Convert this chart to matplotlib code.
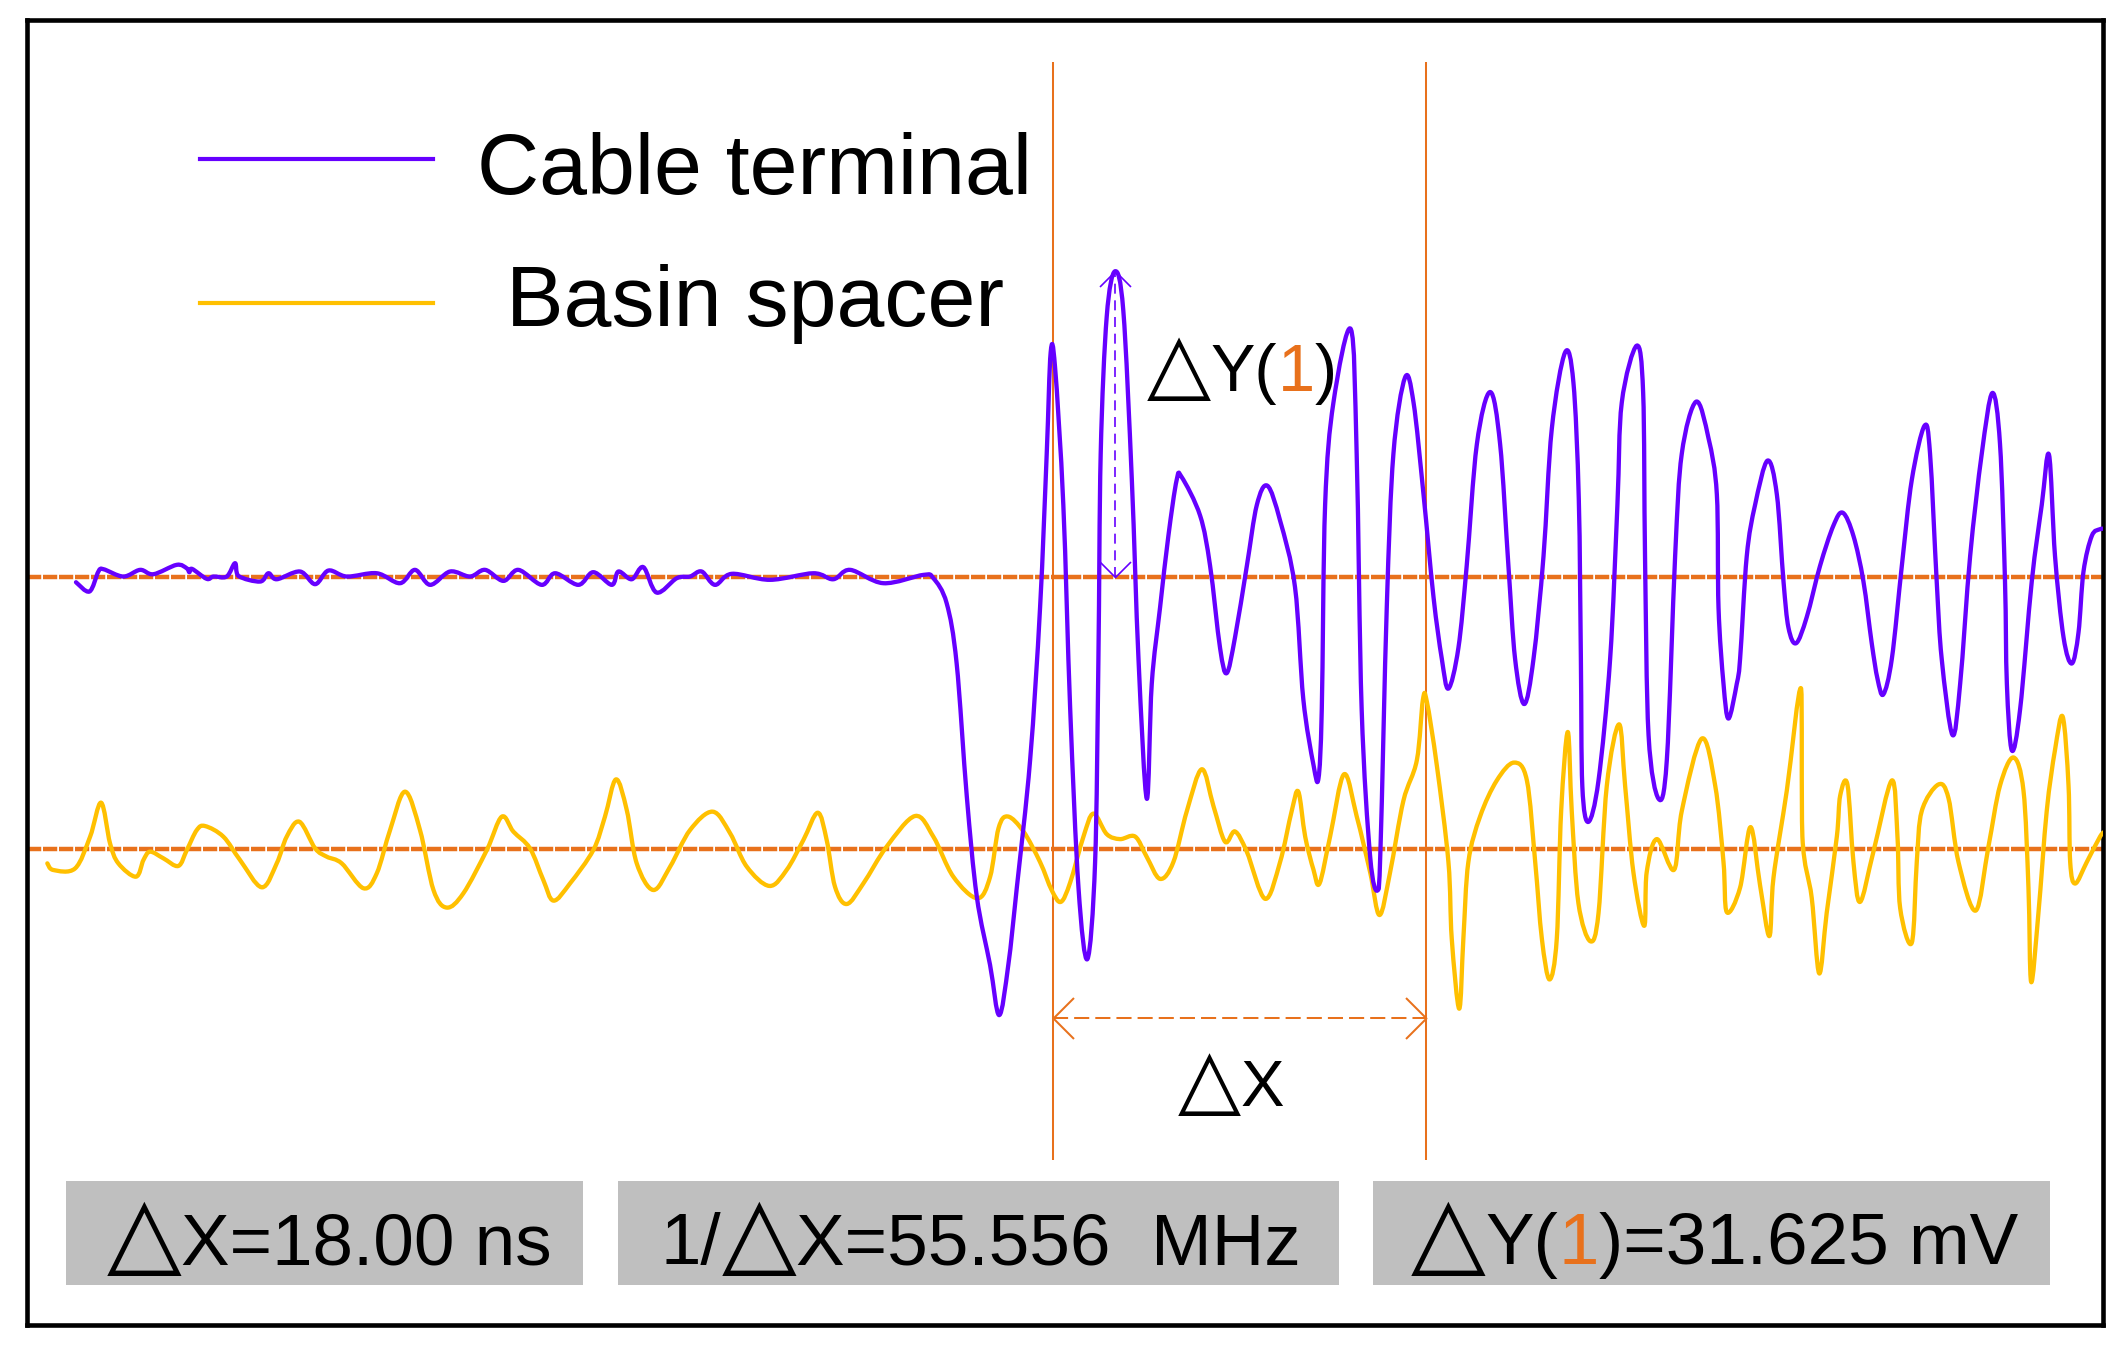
import numpy as np
import matplotlib
matplotlib.use('Agg')
import matplotlib.pyplot as plt
from matplotlib.patches import Rectangle, PathPatch
from matplotlib.path import Path
from matplotlib.transforms import offset_copy

# --- datos (t en ns, v en mV respecto a la linea base de cada canal) ---
t_cable = [-47.04, -46.39, -45.96, -45.72, -44.76, -43.95, -43.31, -42.19, -41.71, -41.58,
           -41.45, -40.74, -40.42, -39.78, -39.38, -39.22, -38.17, -37.77, -37.37, -36.25,
           -35.52, -34.88, -33.99, -32.55, -31.43, -30.71, -29.98, -29.02, -28.06, -27.33,
           -26.45, -25.73, -24.61, -23.96, -22.84, -22.12, -21.23, -20.91, -20.27, -19.71,
           -19.07, -18.10, -17.46, -16.90, -16.26, -15.45, -13.61, -11.52, -10.56, -9.75,
           -8.15, -6.22, -5.74, -5.10, -4.62, -4.13, -3.65, -3.01, -2.57, -2.13,
           -1.72, -1.08, -0.60, -0.28, -0.09, 0.12, 0.52, 0.85, 1.25, 1.68,
           2.05, 2.21, 2.32, 2.61, 3.01, 3.41, 3.82, 4.14, 4.54, 4.78,
           5.18, 5.58, 5.98, 6.22, 7.11, 7.59, 8.07, 8.39, 8.79, 9.36,
           9.84, 10.35, 10.96, 11.68, 12.08, 12.57, 12.81, 12.97, 13.13, 13.53,
           14.37, 14.65, 14.89, 15.30, 15.65, 15.80, 16.10, 16.42, 16.98, 17.39,
           17.87, 18.35, 18.75, 19.07, 19.55, 19.95, 20.44, 21.08, 21.56, 21.96,
           22.28, 22.72, 23.17, 23.65, 24.05, 24.69, 25.09, 25.35, 25.45, 25.52,
           25.81, 26.30, 26.86, 27.21, 27.42, 28.14, 28.45, 28.54, 28.71, 29.19,
           29.59, 29.99, 30.31, 31.00, 31.60, 32.00, 32.08, 32.32, 32.56, 32.96,
           33.12, 33.44, 33.84, 34.44, 34.89, 35.21, 35.45, 35.82, 36.33, 36.97,
           37.62, 38.07, 38.58, 39.06, 39.46, 39.74, 40.02, 40.43, 40.91, 41.39,
           42.00, 42.27, 42.59, 42.83, 43.35, 43.72, 44.20, 44.76, 45.27, 45.64,
           45.88, 45.97, 46.21, 46.61, 47.17, 47.65, 48.00, 48.29, 48.70, 49.10,
           49.42, 49.66, 50.06, 50.46, 50.70]
v_cable = [-0.59, -1.55, 0.52, 0.76, 0.00, 0.69, 0.24, 1.21, 0.86, 0.45,
           0.79, -0.24, 0.00, 0.00, 1.38, 0.07, -0.52, 0.34, -0.28, 0.52,
           -0.79, 0.62, 0.00, 0.34, -0.69, 0.69, -0.86, 0.52, 0.00, 0.69,
           -0.45, 0.69, -0.86, 0.34, -0.86, 0.45, -0.86, 0.52, -0.28, 0.97,
           -1.66, -0.17, 0.00, 0.52, -0.86, 0.28, -0.34, 0.34, -0.28, 0.69,
           -0.69, 0.17, -0.17, -2.76, -8.97, -22.76, -33.1, -40.2, -45.4, -40.2,
           -32.2, -19.0, -3.2, 12.7, 23.2, 21.7, 7.4, -13.7, -32.2, -39.6,
           -29.6, -8.5, 12.7, 26.9, 31.6, 27.5, 10.0, -8.5, -23.0, -11.1,
           -3.2, 4.2, 10.0, 10.3, 6.3, 1.1, -7.4, -10.0, -6.3, 1.1,
           7.4, 9.4, 5.8, -1.1, -12.7, -19.5, -20.9, -13.7, 7.4, 18.0,
           25.6, 12.7, -13.7, -29.0, -32.5, -28.0, -3.2, 12.7, 20.6, 18.0,
           8.5, -2.1, -8.5, -11.6, -7.4, 1.1, 13.7, 19.1, 13.7, 1.1,
           -8.5, -13.2, -8.5, 2.1, 15.3, 23.2, 20.1, 8.0, -8.5, -21.7,
           -25.4, -21.1, -8.5, 7.4, 18.0, 23.9, 19.0, 2.1, -16.4, -23.0,
           -19.0, 2.1, 12.7, 18.1, 14.3, 8.5, -3.2, -11.1, -14.7, -11.1,
           -8.5, 2.1, 7.4, 12.0, 8.5, -0.5, -5.3, -6.9, -4.2, 1.1,
           5.3, 6.6, 4.2, -0.5, -6.9, -10.6, -12.2, -8.5, 1.1, 10.0,
           15.6, 12.7, -0.5, -8.5, -16.4, -11.1, 2.1, 12.7, 19.0, 13.7,
           -0.5, -11.1, -18.0, -13.7, -0.5, 7.4, 12.6, 2.1, -6.3, -9.0,
           -5.8, 0.5, 4.2, 4.9, 4.9]

t_basin = [-48.42, -48.13, -47.08, -46.36, -45.83, -45.40, -45.00, -44.15, -43.79, -43.47,
           -42.83, -42.11, -41.70, -41.22, -40.82, -39.94, -39.14, -38.09, -37.37, -36.89,
           -36.28, -35.52, -34.96, -34.24, -33.19, -32.55, -31.91, -31.19, -30.47, -29.82,
           -29.18, -28.38, -27.25, -26.53, -25.97, -25.17, -24.53, -24.04, -23.24, -22.12,
           -21.56, -21.03, -20.51, -20.03, -19.23, -18.42, -17.46, -16.37, -15.53, -14.73,
           -13.64, -12.81, -12.00, -11.31, -10.88, -10.48, -9.91, -9.11, -7.99, -6.62,
           -5.74, -4.78, -3.62, -3.01, -2.60, -2.15, -1.40, -0.60, -0.04, 0.40,
           0.85, 1.49, 1.97, 2.61, 3.25, 3.98, 4.54, 5.18, 5.82, 6.47,
           7.19, 7.75, 8.31, 8.79, 9.36, 10.24, 10.96, 11.52, 11.84, 12.17,
           12.57, 12.86, 13.37, 14.04, 14.65, 15.30, 15.75, 16.26, 16.90, 17.55,
           17.84, 18.03, 18.51, 19.07, 19.23, 19.59, 19.79, 20.03, 20.60, 21.40,
           22.23, 22.85, 23.25, 23.57, 23.94, 24.29, 24.50, 24.82, 25.01, 25.33,
           25.90, 26.30, 26.70, 27.29, 27.58, 27.98, 28.50, 28.62, 29.11, 29.94,
           30.31, 31.27, 31.92, 32.32, 32.48, 33.12, 33.62, 34.08, 34.53, 34.73,
           35.37, 36.06, 36.12, 36.57, 36.93, 37.29, 37.78, 37.94, 38.29, 38.58,
           38.90, 39.54, 40.43, 40.70, 40.83, 41.39, 41.63, 41.87, 42.67, 43.16,
           43.64, 44.47, 45.08, 45.64, 46.29, 46.77, 47.01, 47.14, 47.49, 47.89,
           48.29, 48.66, 48.94, 49.02, 49.26, 49.82, 50.46, 50.70]
v_basin = [-1.45, -2.14, -1.97, 1.31, 4.83, 0.62, -1.45, -2.83, -1.10, -0.24,
           -0.93, -1.72, -0.07, 2.00, 2.41, 1.31, -1.10, -3.93, -1.45, 1.31,
           2.86, 0.10, -0.76, -1.45, -4.03, -2.48, 2.00, 5.97, 2.00, -4.21,
           -6.03, -4.55, -0.07, 3.38, 1.83, 0.10, -3.17, -5.31, -3.52, -0.07,
           3.38, 7.24, 4.07, -1.45, -4.21, -1.79, 2.00, 3.90, 1.66, -1.79,
           -3.79, -2.14, 0.97, 3.79, 0.97, -3.86, -5.66, -3.52, 0.28, 3.45,
           1.31, -2.83, -5.07, -2.87, 2.2, 3.40, 1.85, -1.32, -4.23, -5.44,
           -3.43, 1.32, 3.70, 1.58, 1.06, 1.32, -0.79, -3.06, -1.32, 3.96,
           8.29, 4.49, 0.79, 1.85, -0.26, -5.12, -1.32, 3.96, 5.97, 1.32,
           -2.11, -3.54, 1.32, 7.77, 3.43, -2.38, -6.8, -2.38, 5.02, 9.24,
           15.48, 15.3, 8.7, -1.32, -9.24, -16.5, -9.24, -1.32, 3.43, 7.13,
           8.98, 7.13, -1.32, -9.24, -13.47, -9.24, 3.96, 12.15, 3.96, -5.55,
           -9.51, -6.60, 6.60, 12.94, 6.60, -2.38, -7.92, -2.38, 1.06, -2.11,
           3.96, 11.46, 6.60, -1.32, -6.50, -3.96, 2.30, -3.70, -8.98, -2.91,
           6.08, 16.64, 1.32, -5.02, -12.84, -6.60, 1.32, 5.55, 6.71, -1.32,
           -5.44, -0.26, 7.13, 1.32, -6.08, -9.67, -1.32, 3.96, 6.71, 5.28,
           -1.32, -6.34, 0.26, 6.60, 9.51, 6.08, -3.96, -13.73, -6.60, 3.96,
           10.30, 13.73, 6.60, -1.32, -3.54, -1.32, 1.32, 1.85]

basin_offset = -28.24          # posicion en pantalla de la linea base del canal 2 (mV)
cursor_t = [0.0, 18.0]         # cursores X (ns)
dy_value = 31.625              # medida del cursor Y (mV)
dy_t = 3.01                    # posicion del pico medido

purple = '#6600FF'
yellow = '#FFC000'
orange = '#E8711C'
fam = ['Liberation Sans', 'DejaVu Sans']

fig = plt.figure(figsize=(21.27, 13.53), dpi=100)
ax = fig.add_axes([0.01269, 0.02069, 0.97602, 0.96452])
ax.set_xlim(-49.40, 50.60)
ax.set_ylim(-77.48, 57.61)
ax.set_xticks([])
ax.set_yticks([])
for s in ax.spines.values():
    s.set_linewidth(3.3)
    s.set_color('black')


def smooth_path(x, y):
    # curva suavizada (tipo "smoothed line") que pasa por los puntos leidos
    p = np.column_stack([x, y]).astype(float)
    n = len(p)
    verts = [p[0]]
    codes = [Path.MOVETO]
    for i in range(n - 1):
        p0, p1, p2, p3 = p[max(i - 1, 0)], p[i], p[i + 1], p[min(i + 2, n - 1)]
        c1 = p1 + (p2 - p0) / 6
        c2 = p2 - (p3 - p1) / 6
        c1[0] = np.clip(c1[0], p1[0], p2[0])
        c2[0] = np.clip(c2[0], p1[0], p2[0])
        verts += [c1, c2, p2]
        codes += [Path.CURVE4] * 3
    return Path(verts, codes)


# lineas base punteadas
for base in [0.0, basin_offset]:
    ax.axhline(base, color=orange, lw=3.2, dashes=(3.2, 0.4), zorder=2)

# cursores
ax.vlines(cursor_t, -60.4, 53.3, color=orange, lw=1.45, zorder=2)

# senales
ax.add_patch(PathPatch(smooth_path(t_basin, np.array(v_basin) + basin_offset), fill=False,
                       edgecolor=yellow, lw=3.1, joinstyle='round', capstyle='round', zorder=3))
ax.add_patch(PathPatch(smooth_path(t_cable, v_cable), fill=False,
                       edgecolor=purple, lw=3.1, joinstyle='round', capstyle='round', zorder=4))

# flechas con puntas abiertas (marcadores tipo chevron)
left_head = Path([(1, 1), (0, 0), (1, -1)], [Path.MOVETO, Path.LINETO, Path.LINETO])
right_head = Path([(-1, 1), (0, 0), (-1, -1)], [Path.MOVETO, Path.LINETO, Path.LINETO])
up_head = Path([(-1, -1), (0, 0), (1, -1)], [Path.MOVETO, Path.LINETO, Path.LINETO])
down_head = Path([(-1, 1), (0, 0), (1, 1)], [Path.MOVETO, Path.LINETO, Path.LINETO])

dx_y = -45.7
ax.plot(cursor_t, [dx_y, dx_y], color=orange, lw=1.45, dashes=(7.5, 3), zorder=5)
for tx, head in zip(cursor_t, [left_head, right_head]):
    ax.plot(tx, dx_y, marker=head, ms=29.5, mec=orange, mfc='none', mew=1.45, ls='none', zorder=5)

ax.plot([dy_t, dy_t], [0, dy_value], color=purple, lw=1.2, dashes=(6, 4), zorder=5)
ax.plot(dy_t, dy_value, marker=up_head, ms=22.3, mec=purple, mfc='none', mew=1.2, ls='none', zorder=5)
ax.plot(dy_t, 0, marker=down_head, ms=22.3, mec=purple, mfc='none', mew=1.2, ls='none', zorder=5)

renderer = fig.canvas.get_renderer()


def chain(x, y, pieces, transform):
    # texto de varios colores/tamanos sobre la misma linea base
    dx = 0.0
    for s, c, size in pieces:
        tr = offset_copy(transform, fig=fig, x=dx, y=0, units='dots')
        t = ax.text(x, y, s, color=c, fontsize=size, family=fam, ha='left', va='baseline',
                    transform=tr, zorder=6)
        dx += t.get_window_extent(renderer).width


# etiquetas de los cursores
chain(4.54, 19.2, [('\u25b3', 'black', 60), ('Y(', 'black', 48), ('1', orange, 48),
                   (')', 'black', 48)], ax.transData)
chain(6.03, -54.8, [('\u25b3', 'black', 59), ('X', 'black', 47)], ax.transData)

# leyenda
ax.plot([0.0833, 0.1958], [0.8932, 0.8932], color=purple, lw=3.0, transform=ax.transAxes)
ax.plot([0.0833, 0.1958], [0.7834, 0.7834], color=yellow, lw=3.0, transform=ax.transAxes)
ax.text(0.3502, 0.8667, 'Cable terminal', fontsize=62, family=fam, ha='center', va='baseline',
        transform=ax.transAxes)
ax.text(0.3509, 0.7655, 'Basin spacer', fontsize=62, family=fam, ha='center', va='baseline',
        transform=ax.transAxes)

# cajas de medidas
box_x = [0.0190, 0.2845, 0.6484]
box_w = [0.2486, 0.3474, 0.3261]
for bx, bw in zip(box_x, box_w):
    ax.add_patch(Rectangle((bx, 0.0307), bw, 0.0797, transform=ax.transAxes,
                           facecolor='#BFBFBF', edgecolor='none', zorder=5))
tri = 70
fs = 52.5
chain(0.0382, 0.0467, [('\u25b3', 'black', tri), ('X=18.00 ns', 'black', fs)], ax.transAxes)
chain(0.3053, 0.0467, [('1/', 'black', fs), ('\u25b3', 'black', tri),
                       ('X=55.556  MHz', 'black', fs)], ax.transAxes)
chain(0.6667, 0.0467, [('\u25b3', 'black', tri), ('Y(', 'black', fs), ('1', orange, fs),
                       (')=31.625 mV', 'black', fs)], ax.transAxes)

fig.savefig('out.png', dpi=100)
